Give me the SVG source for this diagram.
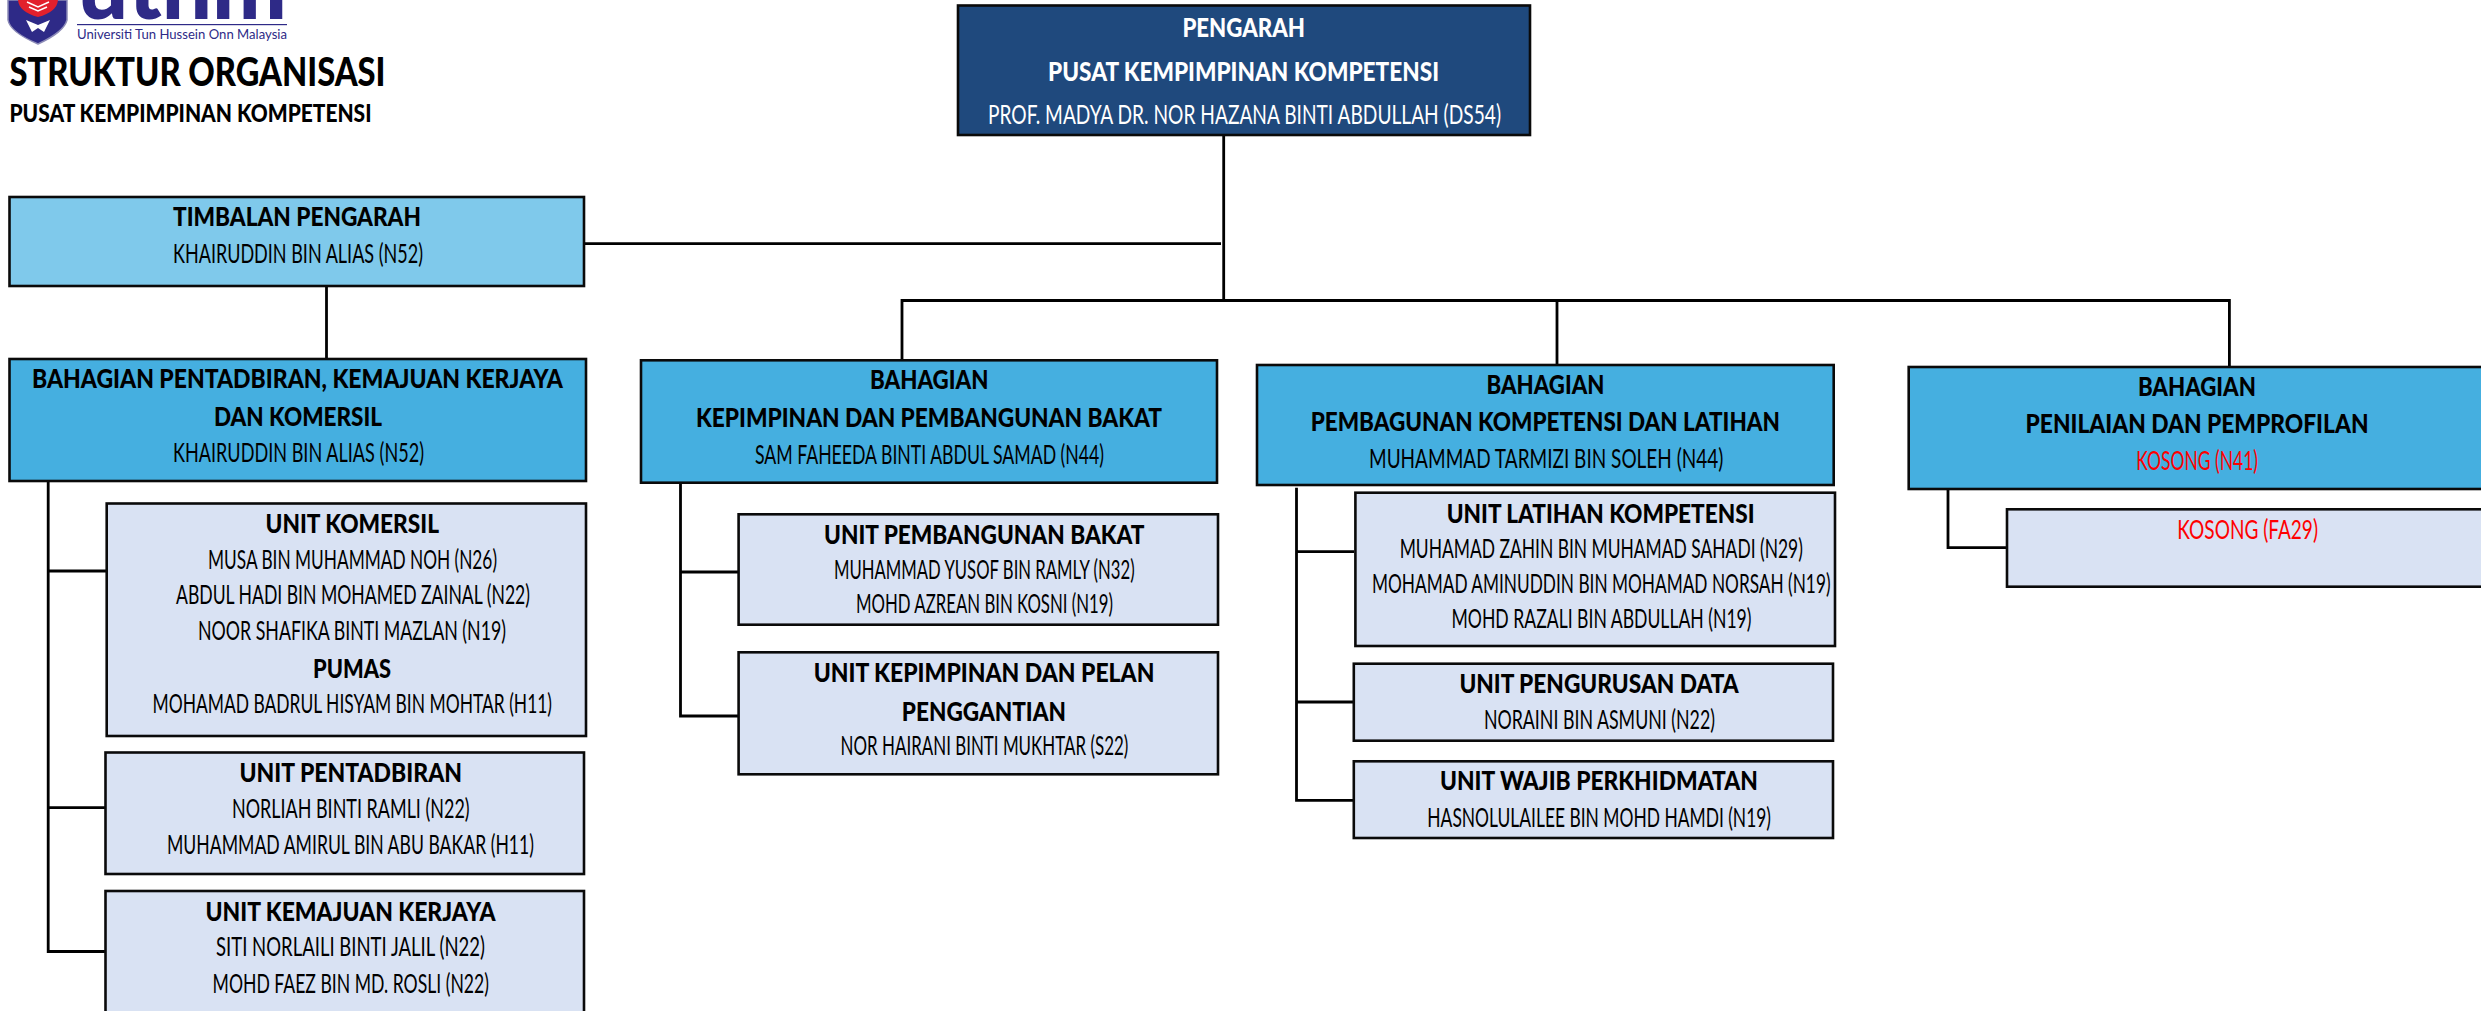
<svg xmlns="http://www.w3.org/2000/svg" width="2481" height="1011" viewBox="0 0 2481 1011">
<style>
text{font-family:"Lato","Liberation Sans",sans-serif;fill:#000}
.h{font-weight:900;font-size:27px}
.n{font-weight:400;font-size:27.5px}
.w{fill:#fff}
.r{fill:#f00}
.box{stroke:#0a0a0a;stroke-width:2.6}
.dir{fill:#1f497d}
.tim{fill:#7fc9eb}
.bah{fill:#45afe0}
.unit{fill:#d9e2f3}
.conn{fill:none;stroke:#000;stroke-width:2.8}
.logo{fill:#2e2a87}
</style>
<g id="logo">
<path d="M8 0V20Q10 32 38 44Q64 32 67 20V0Z" class="logo" stroke="#8d8cb8" stroke-width="1.5"/>
<path d="M18 0Q19 12 38 17Q57 12 58 0Z" fill="#e2202c"/>
<path d="M27 2L38 7L49 2M29 7L38 11L47 7" fill="none" stroke="#fff" stroke-width="1.5"/>
<path d="M26 20L38 25L50 20L44 32L38 28L32 32Z" fill="#fff"/>
<text x="78" y="19" font-size="92" font-weight="900" style="fill:#2e2a87" textLength="209" lengthAdjust="spacingAndGlyphs">uthm</text>
<rect x="77" y="24" width="210" height="1.2" class="logo"/>
<text x="77" y="39" font-size="13" style="fill:#2e2a87" textLength="210" lengthAdjust="spacingAndGlyphs">Universiti Tun Hussein Onn Malaysia</text>
</g>
<g id="title">
<text x="9.5" y="86" font-size="39" font-weight="900" textLength="376" lengthAdjust="spacingAndGlyphs">STRUKTUR ORGANISASI</text>
<text x="9.5" y="122" font-size="24" font-weight="900" textLength="362" lengthAdjust="spacingAndGlyphs">PUSAT KEMPIMPINAN KOMPETENSI</text>
</g>
<g id="connectors" class="conn">
<path d="M1223.7 135V300.5M584 243.7H1221"/>
<path d="M902 360V300.5H2229.4V367M1557 300.5V365"/>
<path d="M326.5 286V359"/>
<path d="M48.2 481V951.5H106M48.2 571H107M48.2 807.7H106"/>
<path d="M680.5 482.7V716H739M680.5 572H739"/>
<path d="M1296.5 487.7V800.3H1355M1296.5 551.7H1354M1296.5 702H1354"/>
<path d="M1948 489V547.7H2007"/>
</g>
<g id="pengarah">
<rect class="box dir" x="958" y="5.5" width="572" height="129.5"/>
<text class="h w" x="1182.4" y="37.3" textLength="122.6" lengthAdjust="spacingAndGlyphs">PENGARAH</text>
<text class="h w" x="1048" y="80.7" textLength="391" lengthAdjust="spacingAndGlyphs">PUSAT KEMPIMPINAN KOMPETENSI</text>
<text class="n w" x="988" y="124" textLength="513" lengthAdjust="spacingAndGlyphs">PROF. MADYA DR. NOR HAZANA BINTI ABDULLAH (DS54)</text>
</g>
<g id="timbalan">
<rect class="box tim" x="9.5" y="197" width="574.5" height="89"/>
<text class="h" x="173" y="226" textLength="248" lengthAdjust="spacingAndGlyphs">TIMBALAN PENGARAH</text>
<text class="n" x="173" y="263" textLength="250" lengthAdjust="spacingAndGlyphs">KHAIRUDDIN BIN ALIAS (N52)</text>
</g>
<g id="bahagian-pentadbiran">
<rect class="box bah" x="9.5" y="359" width="576.5" height="122"/>
<text class="h" x="32" y="388" textLength="531" lengthAdjust="spacingAndGlyphs">BAHAGIAN PENTADBIRAN, KEMAJUAN KERJAYA</text>
<text class="h" x="214" y="425.6" textLength="168" lengthAdjust="spacingAndGlyphs">DAN KOMERSIL</text>
<text class="n" x="173" y="462" textLength="251" lengthAdjust="spacingAndGlyphs">KHAIRUDDIN BIN ALIAS (N52)</text>
</g>
<g id="unit-komersil">
<rect class="box unit" x="106.7" y="503.5" width="479.3" height="232.5"/>
<text class="h" x="265.6" y="533" textLength="173.4" lengthAdjust="spacingAndGlyphs">UNIT KOMERSIL</text>
<text class="n" x="208" y="569" textLength="289" lengthAdjust="spacingAndGlyphs">MUSA BIN MUHAMMAD NOH (N26)</text>
<text class="n" x="176" y="604" textLength="354" lengthAdjust="spacingAndGlyphs">ABDUL HADI BIN MOHAMED ZAINAL (N22)</text>
<text class="n" x="198" y="640" textLength="308" lengthAdjust="spacingAndGlyphs">NOOR SHAFIKA BINTI MAZLAN (N19)</text>
<text class="h" x="313" y="678" textLength="78" lengthAdjust="spacingAndGlyphs">PUMAS</text>
<text class="n" x="152.5" y="713" textLength="399.5" lengthAdjust="spacingAndGlyphs">MOHAMAD BADRUL HISYAM BIN MOHTAR (H11)</text>
</g>
<g id="unit-pentadbiran">
<rect class="box unit" x="105.5" y="752.5" width="478.5" height="121.5"/>
<text class="h" x="239.5" y="781.6" textLength="222.5" lengthAdjust="spacingAndGlyphs">UNIT PENTADBIRAN</text>
<text class="n" x="232" y="818" textLength="237.6" lengthAdjust="spacingAndGlyphs">NORLIAH BINTI RAMLI (N22)</text>
<text class="n" x="167" y="853.5" textLength="367" lengthAdjust="spacingAndGlyphs">MUHAMMAD AMIRUL BIN ABU BAKAR (H11)</text>
</g>
<g id="unit-kemajuan">
<rect class="box unit" x="105.5" y="891" width="478.5" height="125"/>
<text class="h" x="205.5" y="920.6" textLength="290" lengthAdjust="spacingAndGlyphs">UNIT KEMAJUAN KERJAYA</text>
<text class="n" x="216" y="956" textLength="269" lengthAdjust="spacingAndGlyphs">SITI NORLAILI BINTI JALIL (N22)</text>
<text class="n" x="212.6" y="992.5" textLength="276.4" lengthAdjust="spacingAndGlyphs">MOHD FAEZ BIN MD. ROSLI (N22)</text>
</g>
<g id="bahagian-kepimpinan">
<rect class="box bah" x="641" y="360.3" width="576" height="122.4"/>
<text class="h" x="870" y="389.3" textLength="118.4" lengthAdjust="spacingAndGlyphs">BAHAGIAN</text>
<text class="h" x="696" y="426.7" textLength="466" lengthAdjust="spacingAndGlyphs">KEPIMPINAN DAN PEMBANGUNAN BAKAT</text>
<text class="n" x="755" y="464" textLength="349" lengthAdjust="spacingAndGlyphs">SAM FAHEEDA BINTI ABDUL SAMAD (N44)</text>
</g>
<g id="unit-pembangunan-bakat">
<rect class="box unit" x="738.6" y="514.3" width="479.4" height="110.4"/>
<text class="h" x="824" y="543.7" textLength="320.5" lengthAdjust="spacingAndGlyphs">UNIT PEMBANGUNAN BAKAT</text>
<text class="n" x="834" y="579" textLength="300.6" lengthAdjust="spacingAndGlyphs">MUHAMMAD YUSOF BIN RAMLY (N32)</text>
<text class="n" x="856" y="613.3" textLength="257" lengthAdjust="spacingAndGlyphs">MOHD AZREAN BIN KOSNI (N19)</text>
</g>
<g id="unit-kepimpinan">
<rect class="box unit" x="738.6" y="652.3" width="479.4" height="122"/>
<text class="h" x="813.7" y="681.7" textLength="340.7" lengthAdjust="spacingAndGlyphs">UNIT KEPIMPINAN DAN PELAN</text>
<text class="h" x="901.8" y="720.7" textLength="164.2" lengthAdjust="spacingAndGlyphs">PENGGANTIAN</text>
<text class="n" x="840.6" y="755.3" textLength="287.7" lengthAdjust="spacingAndGlyphs">NOR HAIRANI BINTI MUKHTAR (S22)</text>
</g>
<g id="bahagian-pembangunan">
<rect class="box bah" x="1257" y="365" width="576.7" height="120"/>
<text class="h" x="1486.6" y="393.7" textLength="117.8" lengthAdjust="spacingAndGlyphs">BAHAGIAN</text>
<text class="h" x="1310.7" y="430.7" textLength="469.3" lengthAdjust="spacingAndGlyphs">PEMBAGUNAN KOMPETENSI DAN LATIHAN</text>
<text class="n" x="1369" y="468" textLength="354.4" lengthAdjust="spacingAndGlyphs">MUHAMMAD TARMIZI BIN SOLEH (N44)</text>
</g>
<g id="unit-latihan">
<rect class="box unit" x="1355.4" y="492.7" width="479.6" height="153.3"/>
<text class="h" x="1446.7" y="522.7" textLength="307.9" lengthAdjust="spacingAndGlyphs">UNIT LATIHAN KOMPETENSI</text>
<text class="n" x="1399.7" y="558" textLength="403.1" lengthAdjust="spacingAndGlyphs">MUHAMAD ZAHIN BIN MUHAMAD SAHADI (N29)</text>
<text class="n" x="1372" y="593" textLength="458.5" lengthAdjust="spacingAndGlyphs">MOHAMAD AMINUDDIN BIN MOHAMAD NORSAH (N19)</text>
<text class="n" x="1451.5" y="628" textLength="300" lengthAdjust="spacingAndGlyphs">MOHD RAZALI BIN ABDULLAH (N19)</text>
</g>
<g id="unit-pengurusan">
<rect class="box unit" x="1353.8" y="663.7" width="479.2" height="77"/>
<text class="h" x="1459.4" y="693.3" textLength="279.4" lengthAdjust="spacingAndGlyphs">UNIT PENGURUSAN DATA</text>
<text class="n" x="1483.9" y="729.3" textLength="231.1" lengthAdjust="spacingAndGlyphs">NORAINI BIN ASMUNI (N22)</text>
</g>
<g id="unit-wajib">
<rect class="box unit" x="1353.8" y="761.3" width="479.2" height="76.7"/>
<text class="h" x="1440" y="790" textLength="317.8" lengthAdjust="spacingAndGlyphs">UNIT WAJIB PERKHIDMATAN</text>
<text class="n" x="1427.3" y="826.7" textLength="343.7" lengthAdjust="spacingAndGlyphs">HASNOLULAILEE BIN MOHD HAMDI (N19)</text>
</g>
<g id="bahagian-penilaian">
<rect class="box bah" x="1908.7" y="367" width="590" height="122"/>
<text class="h" x="2137.9" y="395.7" textLength="118" lengthAdjust="spacingAndGlyphs">BAHAGIAN</text>
<text class="h" x="2025.6" y="432.7" textLength="342.9" lengthAdjust="spacingAndGlyphs">PENILAIAN DAN PEMPROFILAN</text>
<text class="n r" x="2136.3" y="470" textLength="121.7" lengthAdjust="spacingAndGlyphs">KOSONG (N41)</text>
</g>
<g id="unit-kosong">
<rect class="box unit" x="2007" y="509.3" width="490" height="77.4"/>
<text class="n r" x="2177.3" y="538.7" textLength="140.7" lengthAdjust="spacingAndGlyphs">KOSONG (FA29)</text>
</g>
</svg>
